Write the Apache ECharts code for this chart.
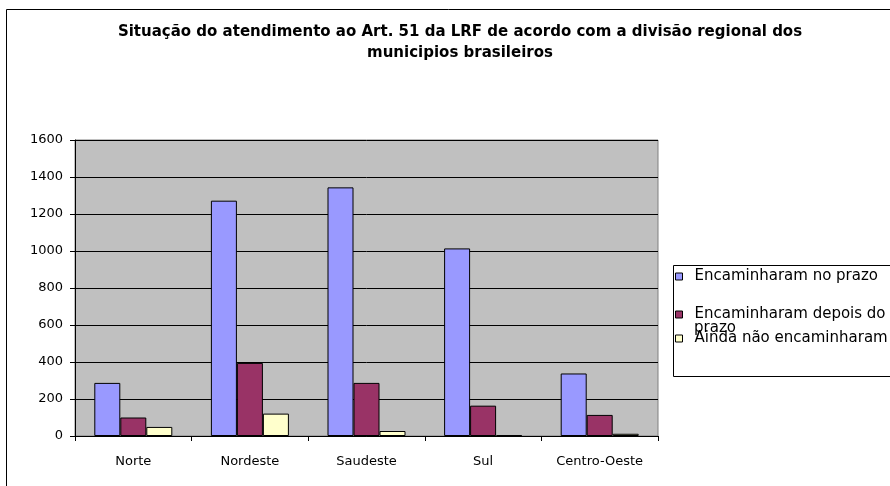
<!DOCTYPE html>
<html>
<head>
<meta charset="utf-8">
<script src="https://cdn.jsdelivr.net/npm/echarts@6/dist/echarts.min.js"></script>
<style>
  html, body { margin: 0; padding: 0; background: #fff; }
  #chart { width: 890px; height: 486px; }
</style>
</head>
<body>
<div id="chart"></div>
<script>
const regions = ['Norte', 'Nordeste', 'Saudeste', 'Sul', 'Centro-Oeste'];
const noPrazo = [287, 1272, 1344, 1014, 338];
const depoisPrazo = [100, 395, 287, 164, 114];
const naoEncaminharam = [49, 121, 27, 5, 12];
const yTicks = [0, 200, 400, 600, 800, 1000, 1200, 1400, 1600];

const seriesNames = ['Encaminharam no prazo', 'Encaminharam depois do', 'Ainda não encaminharam'];
const colors = ['#9999ff', '#993366', '#ffffcc'];
const font = 'DejaVu Sans, Verdana, sans-serif';

const myChart = echarts.init(document.getElementById('chart'));

function bar(name, data) {
  return {
    name: name,
    type: 'bar',
    data: data,
    barWidth: 26,
    barGap: '0%',
    itemStyle: { borderColor: '#000', borderWidth: 1 }
  };
}

// one legend per entry so each row can sit where the original has it
function legendFor(idx, top) {
  return {
    orient: 'vertical',
    left: 675,
    top: top,
    padding: 0,
    data: [seriesNames[idx]],
    icon: 'rect',
    itemWidth: 7,
    itemHeight: 7,
    selectedMode: false,
    itemStyle: { borderColor: '#000', borderWidth: 1 },
    textStyle: { fontFamily: font, fontSize: 15, color: '#000', padding: [0, 0, 0, 7] }
  };
}

myChart.setOption({
  animation: false,
  color: colors,
  title: {
    text: 'Situação do atendimento ao Art. 51 da LRF de acordo com a divisão regional dos\nmunicipios brasileiros',
    left: 455,
    top: 17,
    textAlign: 'center',
    textStyle: { fontFamily: font, fontSize: 15, fontWeight: 'bold', color: '#000', lineHeight: 21 }
  },
  graphic: [
    { type: 'rect', silent: true, z: -10, shape: { x: 6.5, y: 9.5, width: 1000, height: 1000 },
      style: { fill: 'none', stroke: '#000', lineWidth: 1 } },
    { type: 'rect', silent: true, z: -5, shape: { x: 673.5, y: 265.5, width: 400, height: 111 },
      style: { fill: '#fff', stroke: '#000', lineWidth: 1 } },
    { type: 'text', silent: true, left: 694, top: 321,
      style: { text: 'prazo', font: '15px ' + font, fill: '#000' } }
  ],
  legend: [
    legendFor(0, 269),
    legendFor(1, 307),
    legendFor(2, 331)
  ],
  grid: { left: 75, right: 232, top: 140, bottom: 50, show: true, backgroundColor: '#c0c0c0', borderColor: '#808080', borderWidth: 1 },
  xAxis: {
    type: 'category',
    data: regions,
    axisLine: { lineStyle: { color: '#000' } },
    axisTick: { show: true, length: 5, lineStyle: { color: '#000' } },
    axisLabel: { fontFamily: font, fontSize: 13, color: '#000', margin: 19 }
  },
  yAxis: {
    type: 'value',
    min: yTicks[0],
    max: yTicks[yTicks.length - 1],
    interval: 200,
    axisLine: { show: true, lineStyle: { color: '#000' } },
    axisTick: { show: true, length: 5, lineStyle: { color: '#000' } },
    axisLabel: { fontFamily: font, fontSize: 13, color: '#000', margin: 12, formatter: v => String(v) },
    splitLine: { lineStyle: { color: '#000', width: 1 } }
  },
  series: [
    bar(seriesNames[0], noPrazo),
    bar(seriesNames[1], depoisPrazo),
    bar(seriesNames[2], naoEncaminharam)
  ]
});
</script>
</body>
</html>
